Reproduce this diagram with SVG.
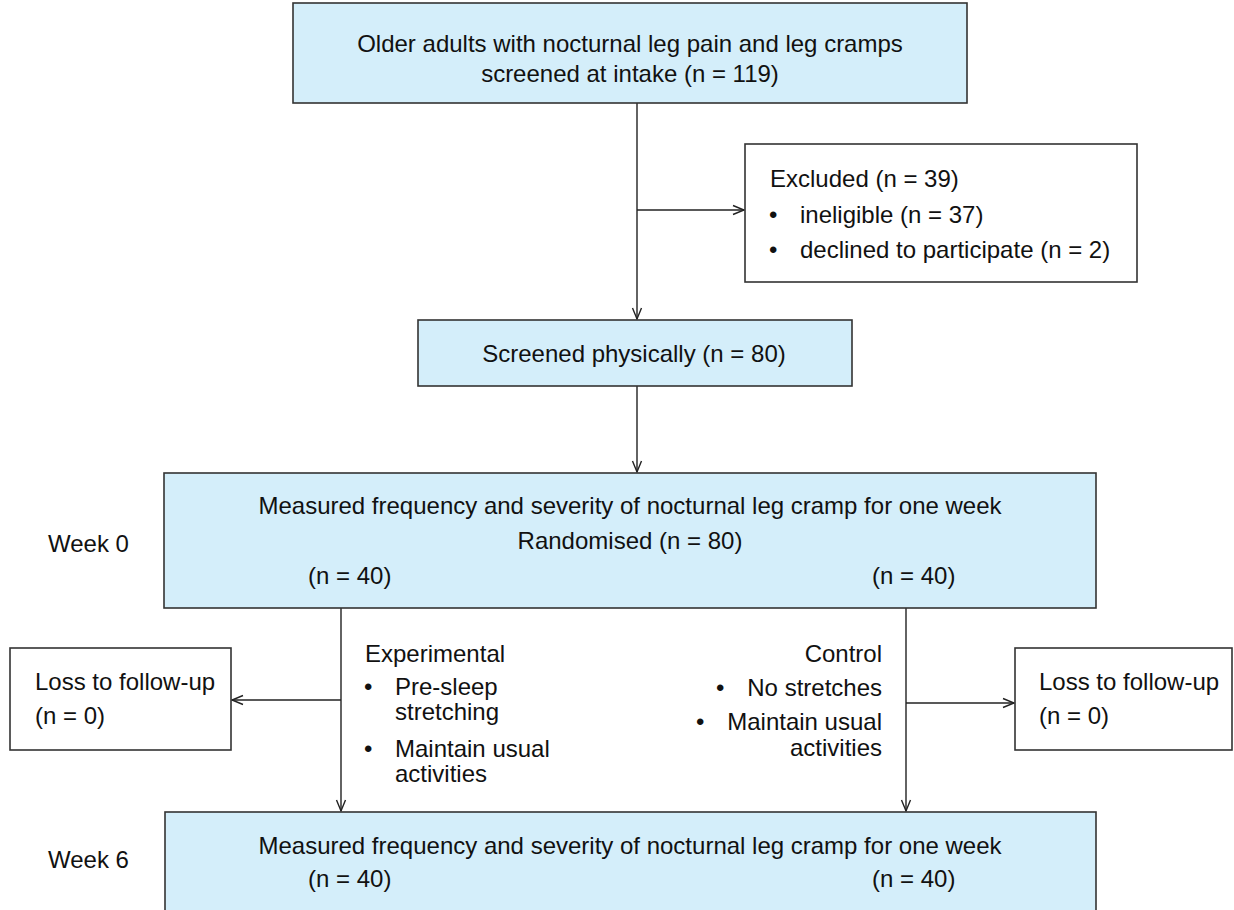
<svg xmlns="http://www.w3.org/2000/svg" width="1234" height="910" viewBox="0 0 1234 910">
<style>
text{font-family:"Liberation Sans",Arial,Helvetica,sans-serif;font-size:24px;fill:#111}
.blue{fill:#d4eefa;stroke:#333;stroke-width:1.6}
.white{fill:#fff;stroke:#333;stroke-width:1.6}
.c{text-anchor:middle}
.r{text-anchor:end}
.ln{fill:none;stroke:#222;stroke-width:1.4}
</style>
<defs>
<marker id="ah" markerUnits="userSpaceOnUse" markerWidth="14" markerHeight="12" viewBox="-12 -6 14 12" refX="0" refY="0" orient="auto">
<path d="M-11,-4.5 L0,0 L-11,4.5" fill="none" stroke="#222" stroke-width="1.4"/>
</marker>
</defs>
<rect width="1234" height="910" fill="#fff"/>
<g id="connectors">
<line class="ln" x1="637" y1="103" x2="637" y2="319" marker-end="url(#ah)"/>
<line class="ln" x1="637" y1="210" x2="744" y2="210" marker-end="url(#ah)"/>
<line class="ln" x1="637" y1="386" x2="637" y2="472" marker-end="url(#ah)"/>
<line class="ln" x1="341" y1="608" x2="341" y2="811" marker-end="url(#ah)"/>
<line class="ln" x1="341" y1="700" x2="232" y2="700" marker-end="url(#ah)"/>
<line class="ln" x1="906" y1="608" x2="906" y2="811" marker-end="url(#ah)"/>
<line class="ln" x1="906" y1="703" x2="1014" y2="703" marker-end="url(#ah)"/>
</g>
<g id="intake">
<rect class="blue" x="293" y="3" width="674" height="100"/>
<text class="c" x="630" y="52">Older adults with nocturnal leg pain and leg cramps</text>
<text class="c" x="630" y="82">screened at intake (n = 119)</text>
</g>
<g id="excluded">
<rect class="white" x="745" y="144" width="392" height="138"/>
<text x="770" y="187">Excluded (n = 39)</text>
<text x="769" y="223">•</text>
<text x="800" y="223">ineligible (n = 37)</text>
<text x="769" y="258">•</text>
<text x="800" y="258">declined to participate (n = 2)</text>
</g>
<g id="screened">
<rect class="blue" x="418" y="320" width="434" height="66"/>
<text class="c" x="634" y="362">Screened physically (n = 80)</text>
</g>
<g id="week0label">
<text x="48" y="552">Week 0</text>
</g>
<g id="randomised">
<rect class="blue" x="164" y="473" width="932" height="135"/>
<text class="c" x="630" y="514">Measured frequency and severity of nocturnal leg cramp for one week</text>
<text class="c" x="630" y="549">Randomised (n = 80)</text>
<text x="308" y="584">(n = 40)</text>
<text x="872" y="584">(n = 40)</text>
</g>
<g id="experimental">
<text x="365" y="662">Experimental</text>
<text x="364" y="695">•</text>
<text x="395" y="695">Pre-sleep</text>
<text x="395" y="720">stretching</text>
<text x="364" y="757">•</text>
<text x="395" y="757">Maintain usual</text>
<text x="395" y="782">activities</text>
</g>
<g id="control">
<text class="r" x="882" y="662">Control</text>
<text x="716" y="696">•</text>
<text class="r" x="882" y="696">No stretches</text>
<text x="696" y="730">•</text>
<text class="r" x="882" y="730">Maintain usual</text>
<text class="r" x="882" y="756">activities</text>
</g>
<g id="loss-left">
<rect class="white" x="10" y="648" width="221" height="102"/>
<text x="35" y="690">Loss to follow-up</text>
<text x="35" y="724">(n = 0)</text>
</g>
<g id="loss-right">
<rect class="white" x="1015" y="648" width="217" height="102"/>
<text x="1039" y="690">Loss to follow-up</text>
<text x="1039" y="724">(n = 0)</text>
</g>
<g id="week6label">
<text x="48" y="868">Week 6</text>
</g>
<g id="followup">
<rect class="blue" x="165" y="812" width="931" height="110"/>
<text class="c" x="630" y="854">Measured frequency and severity of nocturnal leg cramp for one week</text>
<text x="308" y="887">(n = 40)</text>
<text x="872" y="887">(n = 40)</text>
</g>
</svg>
